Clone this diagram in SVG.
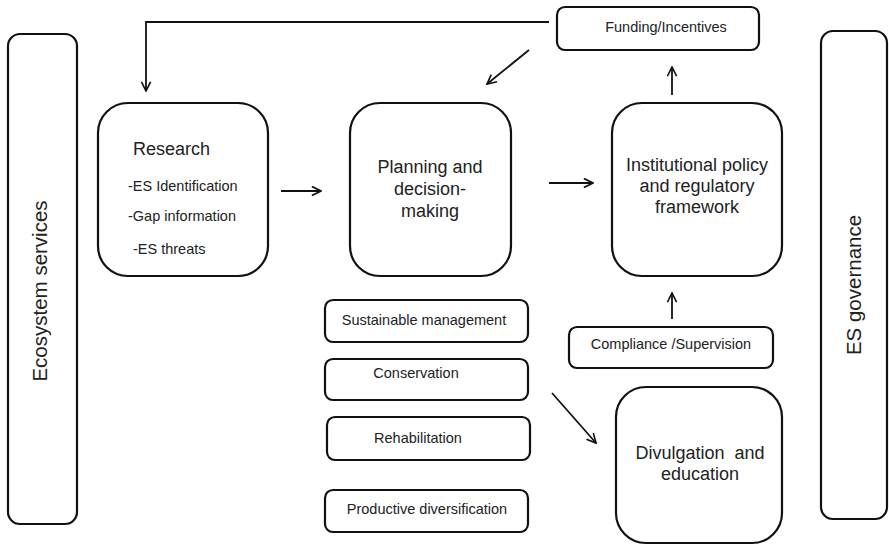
<svg xmlns="http://www.w3.org/2000/svg" width="889" height="546" viewBox="0 0 889 546">
<defs>
<style>
.box{fill:#fff;stroke:#111;stroke-width:2.2}
.t{font-family:"Liberation Sans",Arial,sans-serif;fill:#222}
.s{font-size:14.5px}
.m{font-size:18px}
.l{font-size:20.5px}
.c{stroke:#111;stroke-width:1.8;fill:none}
</style>
<marker id="ah" viewBox="0 0 12 12" refX="11" refY="6" markerWidth="11" markerHeight="11" markerUnits="userSpaceOnUse" orient="auto">
<path d="M1,1 L11,6 L1,11" fill="none" stroke="#111" stroke-width="1.8"/>
</marker>
</defs>
<rect width="889" height="546" fill="#fff"/>
<g id="ecosystem-services">
<rect class="box" x="8" y="34" width="69" height="490" rx="12"/>
<text class="t l" transform="translate(47,291) rotate(-90)" text-anchor="middle">Ecosystem services</text>
</g>
<g id="es-governance">
<rect class="box" x="821" y="31" width="66" height="488" rx="12"/>
<text class="t l" transform="translate(861,285) rotate(-90)" text-anchor="middle">ES governance</text>
</g>
<g id="funding">
<rect class="box" x="557" y="7" width="202" height="43" rx="8"/>
<text class="t s" x="666" y="32" text-anchor="middle">Funding/Incentives</text>
</g>
<g id="research">
<rect class="box" x="98" y="103" width="170" height="173" rx="30"/>
<text class="t m" x="133" y="155">Research</text>
<text class="t s" x="128" y="191">-ES Identification</text>
<text class="t s" x="128" y="221">-Gap information</text>
<text class="t s" x="133" y="254">-ES threats</text>
</g>
<g id="planning">
<rect class="box" x="350" y="103" width="161" height="173" rx="30"/>
<text class="t m" x="430" y="173" text-anchor="middle">Planning and</text>
<text class="t m" x="430" y="195" text-anchor="middle">decision-</text>
<text class="t m" x="430" y="217" text-anchor="middle">making</text>
</g>
<g id="institutional">
<rect class="box" x="612" y="103" width="170" height="173" rx="30"/>
<text class="t m" x="697" y="171" text-anchor="middle">Institutional policy</text>
<text class="t m" x="697" y="192" text-anchor="middle">and regulatory</text>
<text class="t m" x="697" y="213" text-anchor="middle">framework</text>
</g>
<g id="compliance">
<rect class="box" x="569" y="327" width="204" height="41" rx="8"/>
<text class="t s" x="671" y="349" text-anchor="middle">Compliance /Supervision</text>
</g>
<g id="divulgation">
<rect class="box" x="616" y="387" width="166" height="156" rx="30"/>
<text class="t m" x="700" y="459" text-anchor="middle" xml:space="preserve">Divulgation  and</text>
<text class="t m" x="700" y="480" text-anchor="middle">education</text>
</g>
<g id="sustainable">
<rect class="box" x="325" y="300" width="203" height="42" rx="8"/>
<text class="t s" x="424" y="325" text-anchor="middle">Sustainable management</text>
</g>
<g id="conservation">
<rect class="box" x="325" y="359" width="203" height="41" rx="8"/>
<text class="t s" x="416" y="378" text-anchor="middle">Conservation</text>
</g>
<g id="rehabilitation">
<rect class="box" x="327" y="417" width="203" height="43" rx="8"/>
<text class="t s" x="418" y="443" text-anchor="middle">Rehabilitation</text>
</g>
<g id="productive">
<rect class="box" x="325" y="490" width="203" height="42" rx="8"/>
<text class="t s" x="427" y="514" text-anchor="middle">Productive diversification</text>
</g>
<g id="connectors">
<path class="c" d="M549,22 L146,22 L146,91" marker-end="url(#ah)"/>
<path class="c" d="M529,50 L487,84" marker-end="url(#ah)"/>
<path class="c" d="M281,191 L321,191" marker-end="url(#ah)"/>
<path class="c" d="M549,183 L593,183" marker-end="url(#ah)"/>
<path class="c" d="M672,95 L672,67" marker-end="url(#ah)"/>
<path class="c" d="M672,319 L672,293" marker-end="url(#ah)"/>
<path class="c" d="M552,393 L596,443" marker-end="url(#ah)"/>
</g>
</svg>
